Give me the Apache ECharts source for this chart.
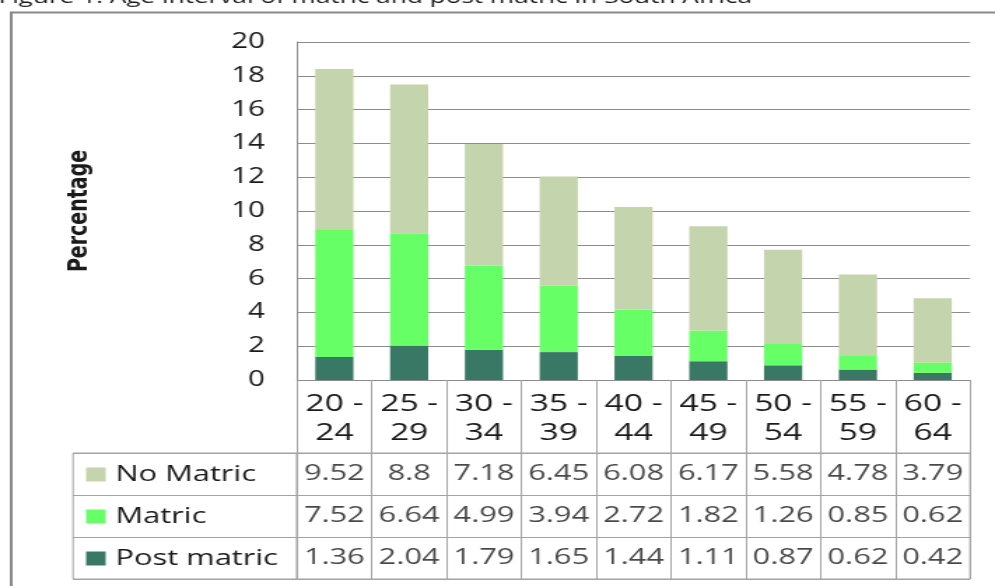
<!DOCTYPE html>
<html><head><meta charset="utf-8">
<script src="https://cdn.jsdelivr.net/npm/echarts@6/dist/echarts.min.js"></script>
<style>
html,body{margin:0;padding:0;overflow:hidden;background:#fff;}
#chart{width:711px;height:586px;transform:scaleX(1.39944);transform-origin:0 0;}
</style></head><body>
<div id="chart"></div>
<script>
// ---- data ----
const titleText = 'Figure 1: Age interval of matric and post matric in South Africa';
const yAxisName = 'Percentage';
const categories = ['20 - 24','25 - 29','30 - 34','35 - 39','40 - 44','45 - 49','50 - 54','55 - 59','60 - 64'];
const seriesNames = ['No Matric','Matric','Post matric'];
const noMatric   = [9.52, 8.8, 7.18, 6.45, 6.08, 6.17, 5.58, 4.78, 3.79];
const matric     = [7.52, 6.64, 4.99, 3.94, 2.72, 1.82, 1.26, 0.85, 0.62];
const postMatric = [1.36, 2.04, 1.79, 1.65, 1.44, 1.11, 0.87, 0.62, 0.42];
const yMin = 0, yMax = 20, yStep = 2;

// ---- styles ----
const colors = {'No Matric':'#c4d4ac','Matric':'#66ff66','Post matric':'#3a7866'};
const FONT = 'Open Sans';
const TXT = '#1a1a1a';
const GRID_LINE = '#8c8c8c';
const TABLE_LINE = '#a3a3a3';
const plotLeft = 212.2, plotWidth = 481, plotTop = 42, plotBottom = 380;
const tableTop = 453, tableHeight = 126;

const rows = [noMatric, matric, postMatric];
const tableData = [];
rows.forEach((arr, r) => arr.forEach((v, i) => tableData.push([i, r, v])));

const chart = echarts.init(document.getElementById('chart'));
chart.setOption({
  animation: false,
  backgroundColor: '#fff',
  textStyle: {fontFamily: FONT},
  graphic: [
    {type:'rect', silent:true, shape:{x:8, y:12.5, width:900, height:700},
     style:{fill:'none', stroke:'#8a8a8a', lineWidth:2}},
    {type:'text', silent:true, x:-1, y:7,
     style:{text:titleText, font:'18.7px "Open Sans"', fill:TXT, verticalAlign:'bottom', align:'left'}},
    {type:'text', silent:true, x:57.2, y:211, rotation:Math.PI/2,
     style:{text:yAxisName, font:'bold 19px "DejaVu Sans"', fill:TXT, align:'center', verticalAlign:'middle'}}
  ],
  legend: {
    data: seriesNames, orient:'vertical', left:61.5, top:463.5, padding:0,
    itemWidth:14, itemHeight:14, itemGap:20, icon:'rect', selectedMode:false,
    textStyle:{fontSize:22, lineHeight:22, color:TXT, fontFamily:FONT, padding:[0,0,0,2]}
  },
  grid: [
    {left:plotLeft, width:plotWidth, top:plotTop, height:plotBottom-plotTop},
    {left:plotLeft, width:plotWidth, top:tableTop, height:tableHeight, show:true, borderColor:TABLE_LINE, borderWidth:1},
    {left:52.2, width:plotLeft-52.2, top:tableTop, height:tableHeight, show:true, borderColor:TABLE_LINE, borderWidth:1}
  ],
  xAxis: [
    {type:'category', gridIndex:0, data:categories,
     axisLine:{lineStyle:{color:GRID_LINE}},
     axisTick:{show:true, interval:0, length:tableTop-plotBottom, lineStyle:{color:TABLE_LINE}},
     axisLabel:{interval:0, fontSize:24, lineHeight:29, margin:10, color:TXT, fontFamily:FONT,
       formatter:v => v.replace(' - ', ' -\n')}},
    {type:'category', gridIndex:1, data:categories, axisLine:{show:false}, axisTick:{show:false}, axisLabel:{show:false},
     splitLine:{show:true, interval:0, lineStyle:{color:TABLE_LINE}}},
    {type:'value', gridIndex:2, show:false}
  ],
  yAxis: [
    {type:'value', gridIndex:0, min:yMin, max:yMax, interval:yStep,
     axisLine:{show:true, lineStyle:{color:GRID_LINE}}, axisTick:{show:false},
     splitLine:{lineStyle:{color:GRID_LINE}},
     axisLabel:{fontSize:21, color:TXT, margin:23, fontFamily:FONT}},
    {type:'category', gridIndex:1, data:seriesNames, inverse:true, axisLine:{show:false}, axisTick:{show:false}, axisLabel:{show:false},
     splitLine:{show:true, interval:0, lineStyle:{color:TABLE_LINE}}},
    {type:'category', gridIndex:2, data:seriesNames, inverse:true, axisLine:{show:false}, axisTick:{show:false}, axisLabel:{show:false},
     splitLine:{show:true, interval:0, lineStyle:{color:TABLE_LINE}}}
  ],
  series: [
    {name:'Post matric', type:'bar', stack:'t', data:postMatric, barWidth:'51%', itemStyle:{color:colors['Post matric']}, silent:true},
    {name:'Matric', type:'bar', stack:'t', data:matric, barWidth:'51%', itemStyle:{color:colors['Matric']}, silent:true},
    {name:'No Matric', type:'bar', stack:'t', data:noMatric, barWidth:'51%', itemStyle:{color:colors['No Matric']}, silent:true},
    {name:'table', type:'scatter', xAxisIndex:1, yAxisIndex:1, data:tableData, symbolSize:1, silent:true,
     itemStyle:{color:'rgba(0,0,0,0)'},
     label:{show:true, position:'inside', formatter:p => String(p.value[2]), fontSize:22, color:TXT, fontFamily:FONT}}
  ]
});
</script>
</body></html>
